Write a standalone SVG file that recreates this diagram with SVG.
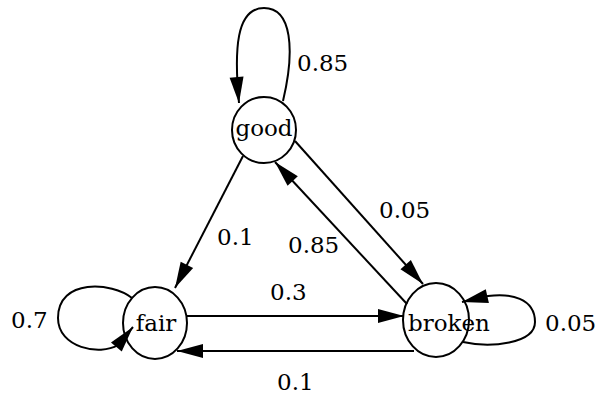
<svg xmlns="http://www.w3.org/2000/svg" width="598" height="397" viewBox="0 0 598 397">
<style>
.n{fill:none;stroke:#000;stroke-width:2}
.e{fill:none;stroke:#000;stroke-width:2;marker-end:url(#a)}
.t{font-family:"DejaVu Serif","Liberation Serif",serif;font-size:23px;fill:#000}
</style>
<defs>
<marker id="a" markerUnits="userSpaceOnUse" markerWidth="26" markerHeight="14" refX="26" refY="7" orient="auto" overflow="visible">
<path d="M0,0 L26,7 L0,14 z" fill="#000"/>
</marker>
</defs>
<rect width="598" height="397" fill="#fff"/>
<g id="edges">
<path class="e" d="M283,101 C295,50 292,8 264,8 C236,8 234,50 239,103"/>
<path class="e" d="M243,156 L175,288"/>
<path class="e" d="M295,141 L423,284"/>
<path class="e" d="M407,304 L275,162"/>
<path class="e" d="M187,316 L404,316"/>
<path class="e" d="M414,351 L177,351"/>
<path class="e" d="M132,298 C112,282 58,278 58,318 C58,348 100,356 118,345 L133,327"/>
<path class="e" d="M463,342 C490,348 535,344 535,322 C535,298 510,293 488,296 L462,302"/>
<text class="t" x="297" y="71">0.85</text>
<text class="t" x="217" y="245">0.1</text>
<text class="t" x="379" y="218">0.05</text>
<text class="t" x="288" y="253">0.85</text>
<text class="t" x="270" y="300">0.3</text>
<text class="t" x="277" y="390">0.1</text>
<text class="t" x="11" y="328">0.7</text>
<text class="t" x="545" y="331">0.05</text>
</g>
<g id="good">
<ellipse class="n" cx="264" cy="130" rx="32" ry="33"/>
<text class="t" x="264" y="136" text-anchor="middle">good</text>
</g>
<g id="fair">
<ellipse class="n" cx="155" cy="323" rx="32" ry="36"/>
<text class="t" x="156" y="331" text-anchor="middle">fair</text>
</g>
<g id="broken">
<ellipse class="n" cx="436" cy="320" rx="33" ry="37"/>
<text class="t" x="408" y="331">broken</text>
</g>
</svg>
